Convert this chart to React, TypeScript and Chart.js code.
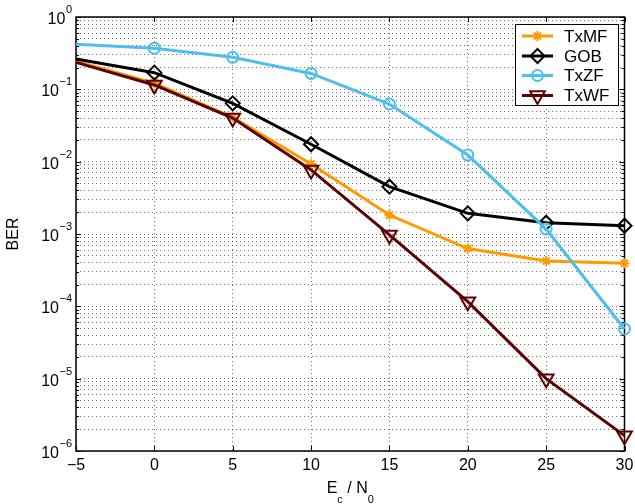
import React, { useEffect, useRef } from 'react';
import { Chart, registerables } from 'chart.js';

Chart.register(...registerables);

// ---- data ----
const snr = [-5, 0, 5, 10, 15, 20, 25, 30];
const txmf = [0.245, 0.122, 0.041, 0.0093, 0.00183, 0.00063, 0.000423, 0.000393];
const gob = [0.263, 0.17, 0.064, 0.0174, 0.00451, 0.00193, 0.00143, 0.0013];
const txzf = [0.42, 0.369, 0.277, 0.166, 0.0627, 0.01236, 0.00117, 0.0000486];
const txwf = [0.236, 0.115, 0.04, 0.0077, 0.00097, 0.000116, 0.00001, 0.00000163];
const seriesNames = ['TxMF', 'GOB', 'TxZF', 'TxWF'];
const xTickValues = [-5, 0, 5, 10, 15, 20, 25, 30];
const yDecadeExponents = [0, -1, -2, -3, -4, -5, -6];
const yMinorDigits = [1, 2, 3, 4, 5, 6, 7, 8, 9];
const yTitle = 'BER';
const xTitleParts = ['E', 'c', ' / N', '0'];

// ---- styles ----
const FONT = '"Liberation Sans", Arial, Helvetica, sans-serif';
const colors = ['#FF9900', '#000000', '#4DBEEE', '#5C0000'];
const markers = ['star', 'diamond', 'circle', 'triangleDown'];
const markerRadius = [5, 7, 5.5, 8.5];

function seriesValues(i: number) {
  return [txmf, gob, txzf, txwf][i];
}

function drawMarker(ctx: CanvasRenderingContext2D, style: string, x: number, y: number, r: number, color: string) {
  ctx.save();
  ctx.strokeStyle = color;
  ctx.lineWidth = 2;
  ctx.beginPath();
  if (style === 'star') {
    const d = r * Math.SQRT1_2;
    ctx.moveTo(x - r, y); ctx.lineTo(x + r, y);
    ctx.moveTo(x, y - r); ctx.lineTo(x, y + r);
    ctx.moveTo(x - d, y - d); ctx.lineTo(x + d, y + d);
    ctx.moveTo(x - d, y + d); ctx.lineTo(x + d, y - d);
  } else if (style === 'diamond') {
    ctx.moveTo(x, y - r); ctx.lineTo(x + r, y); ctx.lineTo(x, y + r); ctx.lineTo(x - r, y); ctx.closePath();
  } else if (style === 'circle') {
    ctx.arc(x, y, r, 0, Math.PI * 2);
  } else {
    const s = Math.sqrt(3) / 2;
    ctx.moveTo(x, y + r); ctx.lineTo(x + r * s, y - r / 2); ctx.lineTo(x - r * s, y - r / 2); ctx.closePath();
  }
  ctx.stroke();
  ctx.restore();
}

const chartStylePlugin = {
  id: 'matlabStyle',
  beforeDatasetsDraw(chart: any) {
    const { ctx, chartArea: a, scales } = chart;
    const xs = scales.x, ys = scales.y;
    ctx.save();
    ctx.strokeStyle = '#000';
    ctx.lineWidth = 1;
    ctx.beginPath();
    for (const v of xTickValues) {
      const px = Math.round(xs.getPixelForValue(v)) + 0.5;
      ctx.moveTo(px, a.bottom); ctx.lineTo(px, a.bottom - 5);
      ctx.moveTo(px, a.top); ctx.lineTo(px, a.top + 5);
    }
    for (const t of ys.ticks) {
      const py = Math.round(ys.getPixelForValue(t.value)) + 0.5;
      const lg = Math.log10(t.value);
      const len = Math.abs(lg - Math.round(lg)) < 1e-6 ? 5 : 3;
      ctx.moveTo(a.left, py); ctx.lineTo(a.left + len, py);
      ctx.moveTo(a.right, py); ctx.lineTo(a.right - len, py);
    }
    ctx.stroke();
    ctx.lineWidth = 1.5;
    ctx.strokeRect(a.left, a.top, a.right - a.left, a.bottom - a.top);
    ctx.restore();
  },
  afterDraw(chart: any) {
    const { ctx, chartArea: a, scales } = chart;
    const xs = scales.x, ys = scales.y;
    ctx.save();
    ctx.fillStyle = '#000';
    ctx.textBaseline = 'alphabetic';
    // x tick labels
    ctx.font = `16px ${FONT}`;
    ctx.textAlign = 'center';
    for (const v of xTickValues) {
      const label = v < 0 ? '\u2212' + Math.abs(v) : String(v);
      ctx.fillText(label, xs.getPixelForValue(v), a.bottom + 19);
    }
    // y tick labels 10^e
    for (const e of yDecadeExponents) {
      const py = ys.getPixelForValue(Math.pow(10, e));
      const sup = e < 0 ? '\u2212' + Math.abs(e) : String(e);
      ctx.font = `11px ${FONT}`;
      const w2 = ctx.measureText(sup).width;
      const right = a.left - 4;
      ctx.textAlign = 'left';
      ctx.fillText(sup, right - w2, py - 4);
      ctx.font = `16px ${FONT}`;
      ctx.textAlign = 'right';
      ctx.fillText('10', right - w2 - 0.5, py + 7);
    }
    // y title
    ctx.save();
    ctx.translate(18, (a.top + a.bottom) / 2);
    ctx.rotate(-Math.PI / 2);
    ctx.textAlign = 'center';
    ctx.font = `16px ${FONT}`;
    ctx.fillText(yTitle, 0, 0);
    ctx.restore();
    // x title with subscripts
    ctx.textAlign = 'left';
    const sizes = [16, 11, 16, 11];
    const offs = [0, 10, 0, 10];
    let total = 0;
    const widths = xTitleParts.map((p, i) => {
      ctx.font = `${sizes[i]}px ${FONT}`;
      const w = ctx.measureText(p).width;
      total += w;
      return w;
    });
    let cx = (a.left + a.right) / 2 - total / 2;
    const base = a.bottom + 42;
    xTitleParts.forEach((p, i) => {
      ctx.font = `${sizes[i]}px ${FONT}`;
      ctx.fillText(p, cx, base + offs[i]);
      cx += widths[i];
    });
    // legend
    const box = { l: 515.5, t: 24.5, r: 618.5, b: 105.5 };
    ctx.fillStyle = '#fff';
    ctx.fillRect(box.l, box.t, box.r - box.l, box.b - box.t);
    ctx.strokeStyle = '#000';
    ctx.lineWidth = 1;
    ctx.strokeRect(box.l, box.t, box.r - box.l, box.b - box.t);
    const rows = [36, 56, 75.5, 95.5];
    seriesNames.forEach((name, i) => {
      const y = rows[i];
      ctx.strokeStyle = colors[i];
      ctx.lineWidth = 3;
      ctx.beginPath();
      ctx.moveTo(522, y); ctx.lineTo(553, y);
      ctx.stroke();
      drawMarker(ctx, markers[i], 537.5, y, markerRadius[i], colors[i]);
      ctx.fillStyle = '#000';
      ctx.font = `17px ${FONT}`;
      ctx.textAlign = 'left';
      ctx.textBaseline = 'middle';
      ctx.fillText(name, 564, y + 1);
    });
    ctx.restore();
  },
};

function makeDataset(i: number) {
  const style = markers[i];
  const pointStyle = style === 'diamond' ? 'rectRot' : style === 'triangleDown' ? 'triangle' : style;
  return {
    label: seriesNames[i],
    data: snr.map((x, k) => ({ x, y: seriesValues(i)[k] })),
    borderColor: colors[i],
    backgroundColor: colors[i],
    borderWidth: 3,
    pointStyle,
    // the reference shows no marker on the left edge (x = -5)
    pointRadius: snr.map((x) => (x === -5 ? 0 : markerRadius[i])),
    pointBorderWidth: 2,
    pointBorderColor: colors[i],
    pointBackgroundColor: 'rgba(0,0,0,0)',
    pointRotation: style === 'triangleDown' ? 180 : 0,
    tension: 0,
    clip: false as any,
    order: 4 - i,
  };
}

export default function App() {
  const ref = useRef<HTMLCanvasElement | null>(null);
  useEffect(() => {
    if (!ref.current) return;
    const yTickList: number[] = [];
    for (let e = -6; e < 0; e++) {
      for (const d of yMinorDigits) yTickList.push(d * Math.pow(10, e));
    }
    yTickList.push(1);
    const chart = new Chart(ref.current, {
      type: 'line',
      data: { datasets: [0, 1, 2, 3].map(makeDataset) as any },
      options: {
        animation: false,
        responsive: false,
        devicePixelRatio: 1,
        layout: { padding: { top: 17, right: 10, left: 0, bottom: 0 } },
        plugins: { legend: { display: false }, tooltip: { enabled: false }, title: { display: false } },
        scales: {
          x: {
            type: 'linear',
            min: -5,
            max: 30,
            ticks: { display: false, stepSize: 5 },
            grid: { color: 'rgba(0,0,0,0.55)', lineWidth: 1, drawTicks: false },
            border: { display: false, dash: [1, 3] },
            afterFit: (s: any) => { s.height = 53; },
          },
          y: {
            type: 'logarithmic',
            min: 1e-6,
            max: 1,
            ticks: { display: false },
            grid: { color: 'rgba(0,0,0,0.55)', lineWidth: 1, drawTicks: false },
            border: { display: false, dash: [1, 3] },
            afterBuildTicks: (s: any) => { s.ticks = yTickList.map((v) => ({ value: v })); },
            afterFit: (s: any) => { s.width = 76; },
          },
        },
      } as any,
      plugins: [chartStylePlugin],
    });
    return () => chart.destroy();
  }, []);
  return (
    <div style={{ position: 'absolute', left: 0, top: 0, width: 635, height: 504, background: '#fff' }}>
      <canvas ref={ref} width={635} height={504} />
    </div>
  );
}
